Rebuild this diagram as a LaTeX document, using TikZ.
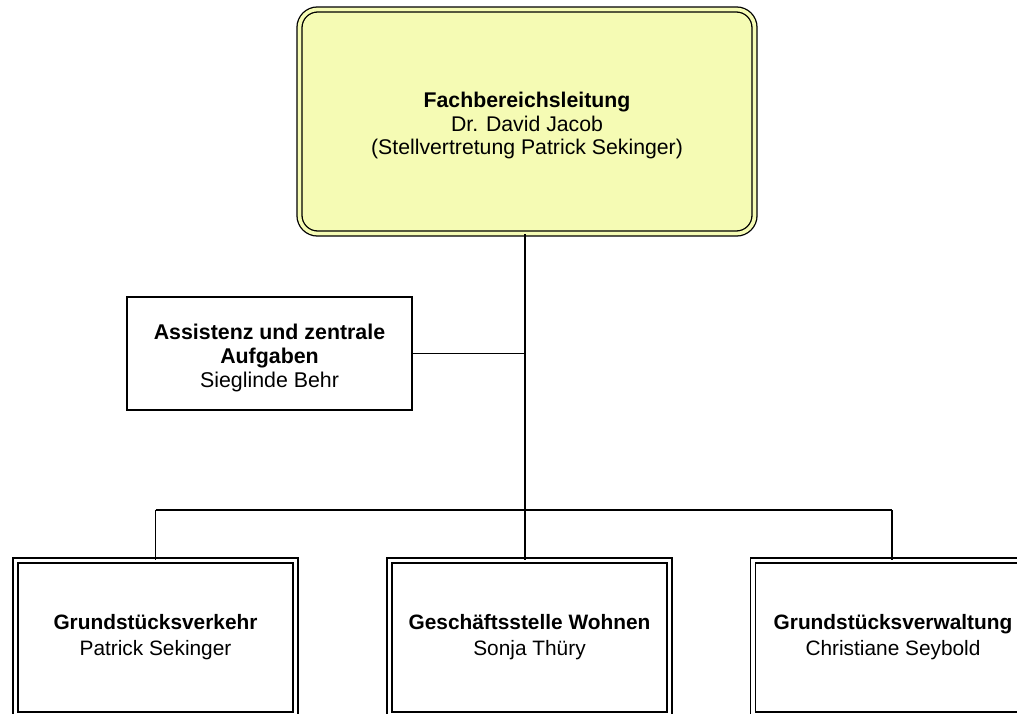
\documentclass[tikz,border=0pt]{standalone}
\usepackage{fontspec}
\setmainfont{Liberation Sans}
\definecolor{boxyellow}{RGB}{245,251,180}
\begin{document}
\begin{tikzpicture}[x=1pt,y=-1pt,
  conn/.style={draw=black,line width=1.35pt},
  dbox/.style={draw=black,double=white,double distance=3.7pt,line width=1.3pt,align=center,inner sep=0pt},
  topbox/.style={dbox,fill=boxyellow,double=boxyellow,rounded corners=18pt,minimum width=455pt,minimum height=224pt,
    font=\fontsize{21.25}{23.4}\selectfont},
  unitbox/.style={dbox,fill=white,minimum width=280pt,minimum height=154pt,
    font=\fontsize{20.85}{23.5}\selectfont},
  assbox/.style={draw=black,line width=1.35pt,fill=white,align=center,minimum width=285pt,minimum height=113pt,inner sep=0pt,
    font=\fontsize{21.35}{24}\selectfont}]
\clip (0,0) rectangle (1017,713);
\node[topbox] (top) at (527,121.5) {\textbf{Fachbereichsleitung}\\Dr. David Jacob\\(Stellvertretung Patrick Sekinger)\\[-27.4pt]};
\node[assbox] (ass) at (269.5,353.5) {\textbf{Assistenz und zentrale}\\\textbf{Aufgaben}\\Sieglinde Behr\\[-28pt]};
\node[unitbox] (b1) at (155.5,637.5) {\textbf{Grundstücksverkehr}\\[2.5pt]Patrick Sekinger\\[-18.5pt]};
\node[unitbox] (b2) at (529.5,637.5) {\textbf{Geschäftsstelle Wohnen}\\[2.5pt]Sonja Thüry\\[-18.5pt]};
\node[unitbox] (b3) at (893,637.5) {\textbf{Grundstücksverwaltung}\\[2.5pt]Christiane Seybold\\[-18.5pt]};
\coordinate (j) at (525,510);
\coordinate (d3) at (892,510);
\draw[conn] (top.south -| j) -- (j);
\draw[conn] (ass.east) -- (ass.east -| j);
\draw[conn] (b1.north |- j) -- (d3);
\draw[conn] (b1.north |- j) -- (b1.north);
\draw[conn] (j) -- (j |- b2.north);
\draw[conn] (d3) -- (d3 |- b3.north);
\end{tikzpicture}
\end{document}
